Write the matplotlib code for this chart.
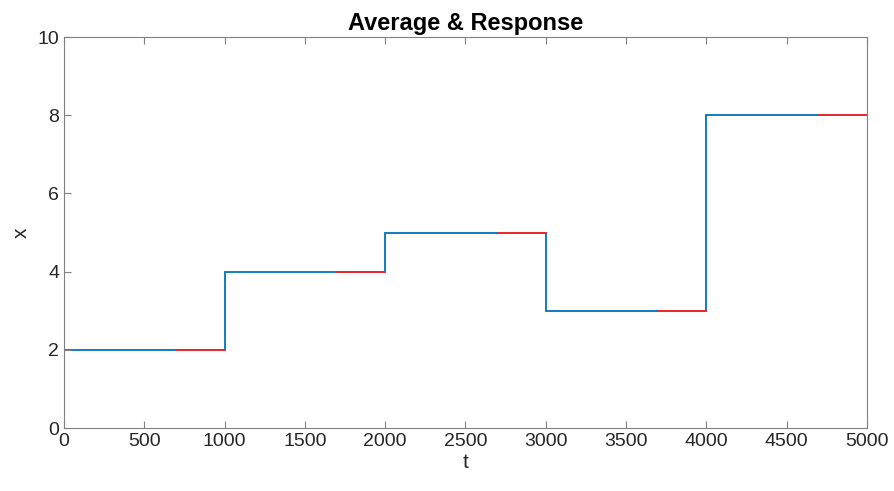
import matplotlib
matplotlib.use('Agg')
import matplotlib.pyplot as plt
import numpy as np

# step boundaries and levels of the response
t_edges = [0, 1000, 2000, 3000, 4000, 5000]
levels = [2, 4, 5, 3, 8]
# averaging window inside each period (start, end)
avg_start = [700, 1700, 2700, 3700, 4700]
avg_end = [1000, 2000, 3000, 4000, 5000]
avg_vals = [2, 4, 5, 3, 8]

plt.rcParams['font.family'] = ['Liberation Sans', 'DejaVu Sans']

fig = plt.figure(figsize=(8.95, 4.91), dpi=100)
ax = fig.add_axes([0.0715, 0.1283, 0.8972, 0.7963])

# response (blue step)
ax.stairs(levels, t_edges, color='#0072BD', lw=1.3, baseline=None)

# average (red), drawn over the tail of each step
for s, e, v in zip(avg_start, avg_end, avg_vals):
    ax.plot([s, e], [v, v], color='#FF2020', lw=1.3)

ax.set_xlim(0, 5000)
ax.set_ylim(0, 10)
ax.set_xticks(np.arange(0, 5001, 500))
ax.set_yticks(np.arange(0, 11, 2))

ax.set_title('Average & Response', fontsize=17, fontweight='bold', pad=5)
ax.set_xlabel('t', fontsize=15, color='#262626', labelpad=2)
ax.set_ylabel('x', fontsize=15, color='#262626', labelpad=5)

for sp in ax.spines.values():
    sp.set_color('#808080')
    sp.set_linewidth(0.8)
ax.tick_params(axis='both', direction='in', length=5, width=0.8, color='#808080',
               labelsize=14, labelcolor='#262626', top=True, right=False)

fig.savefig('out.png', dpi=100)
